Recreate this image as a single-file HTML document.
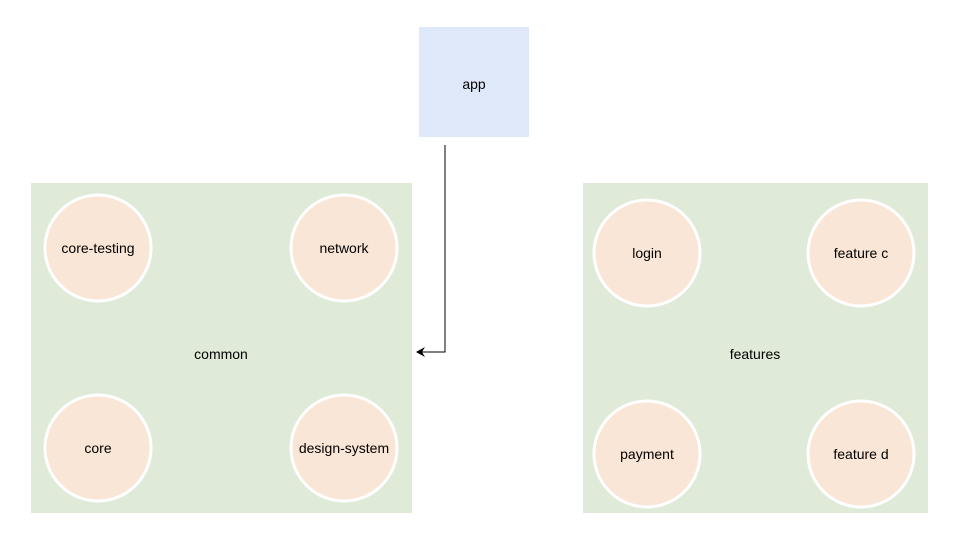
<!DOCTYPE html>
<html><head><meta charset="utf-8"><style>
body{margin:0;width:960px;height:540px;background:#fff;overflow:hidden}
</style></head><body>
<svg width="960" height="540" xmlns="http://www.w3.org/2000/svg" font-family="Liberation Sans, Arial, sans-serif" font-size="14" fill="#000">
<rect x="419" y="27" width="110" height="110" fill="#dfe8f8"/>
<text x="474" y="89" text-anchor="middle">app</text>
<rect x="31" y="183" width="381" height="330" fill="#e0ead9"/>
<rect x="583" y="183" width="345" height="330" fill="#e0ead9"/>
<text x="221" y="359" text-anchor="middle">common</text>
<text x="755" y="359" text-anchor="middle">features</text>
<g fill="#f9e6d6" stroke="#fff" stroke-width="3">
<circle cx="98" cy="248" r="53"/>
<circle cx="344" cy="248" r="53"/>
<circle cx="98" cy="448" r="53"/>
<circle cx="344" cy="448" r="53"/>
<circle cx="647" cy="253" r="53"/>
<circle cx="861" cy="253" r="53"/>
<circle cx="647" cy="454" r="53"/>
<circle cx="861" cy="454" r="53"/>
</g>
<g text-anchor="middle">
<text x="98" y="253">core-testing</text>
<text x="344" y="253">network</text>
<text x="98" y="453">core</text>
<text x="344" y="453">design-system</text>
<text x="647" y="258">login</text>
<text x="861" y="258">feature c</text>
<text x="647" y="459">payment</text>
<text x="861" y="459">feature d</text>
</g>
<path d="M445 145 V352 H422" fill="none" stroke="#000" stroke-width="1"/>
<path d="M416 352 L425 347 L422 352 L425 357 Z" fill="#000"/>
</svg>
</body></html>
